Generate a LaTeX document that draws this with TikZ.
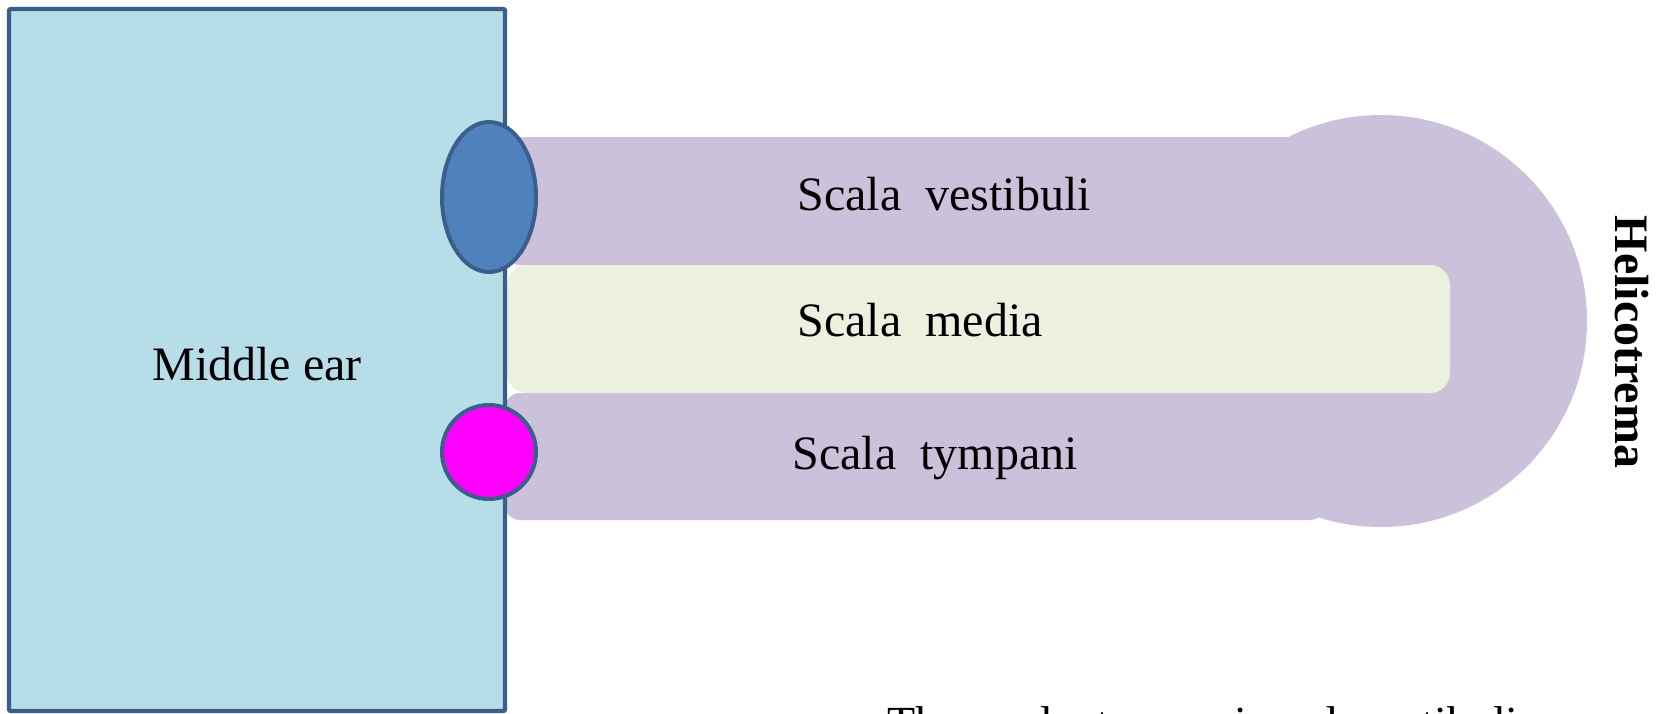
\documentclass[tikz,border=0pt]{standalone}
\usepackage{fontspec}
\setmainfont{Liberation Serif}
\usetikzlibrary{shapes.geometric}
\definecolor{earfill}{HTML}{B7DDE8}
\definecolor{earline}{HTML}{3A5F8B}
\definecolor{scalafill}{HTML}{CCC1DA}
\definecolor{mediafill}{HTML}{EBF0DF}
\definecolor{ovalfill}{HTML}{4F81BD}
\definecolor{roundfill}{HTML}{FF00FF}
\begin{document}
\begin{tikzpicture}[x=0.5pt,y=-0.5pt,
  band/.style={rectangle, inner sep=0pt, fill=scalafill, rounded corners=7.5pt},
  mediaband/.style={rectangle, inner sep=0pt, fill=mediafill, rounded corners=10pt},
  window/.style={ellipse, inner sep=0pt, draw=earline, line width=2pt},
  lbl/.style={anchor=base west, inner sep=0pt, font=\fontsize{24pt}{28pt}\selectfont}]
\useasboundingbox (0,0) rectangle (1665,713);
% scalae
\node[band, minimum width=402.5pt, minimum height=64pt] (vest) at (907.5,201) {};
\node[band, minimum width=410pt, minimum height=63.5pt] (tymp) at (915,456.5) {};
\node[circle, inner sep=0pt, fill=scalafill, minimum size=206pt] (heli) at (1381,321) {};
\node[mediaband, minimum width=471.5pt, minimum height=64pt] (media) at (978.5,329) {};
% middle ear
\node[rectangle, inner sep=0pt, fill=earfill, draw=earline, line width=2.2pt, rounded corners=1pt,
      minimum width=248pt, minimum height=351pt] (ear) at (257,360) {};
% windows
\node[window, fill=ovalfill, minimum width=47pt, minimum height=75pt] (oval) at (489,197) {};
\node[window, fill=roundfill, minimum width=47pt, minimum height=47pt] (round) at (489,452) {};
% labels
\node[lbl] (tear) at (152,380) {Middle ear};
\node[lbl] (tvest) at (797,210) {Scala~~vestibuli};
\node[lbl] (tmedia) at (797,336) {Scala~~media};
\node[lbl] (ttymp) at (792,469) {Scala~~tympani};
\node[inner sep=0pt, rotate=-90, font=\fontsize{24pt}{28pt}\selectfont\bfseries] (theli) at (1632,342) {Helicotrema};
\node[lbl, font=\fontsize{23pt}{27pt}\selectfont] (tbottom) at (887,738) {The~~scala~~tympani~~and~~vestibuli};
\end{tikzpicture}
\end{document}
